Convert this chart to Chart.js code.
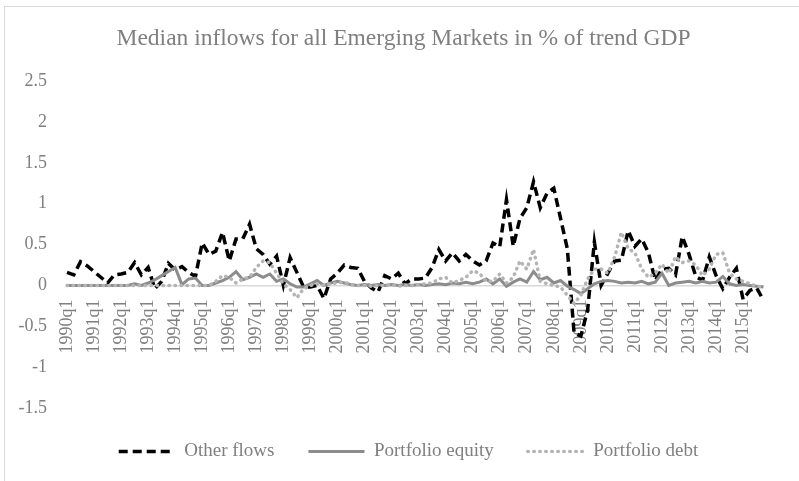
<!DOCTYPE html>
<html>
<head>
<meta charset="utf-8">
<script src="https://cdn.jsdelivr.net/npm/chart.js@4/dist/chart.umd.min.js"></script>
<style>
  html, body { margin: 0; padding: 0; background: #fff; }
  #frame { position: absolute; left: 4px; top: 6px; width: 900px; height: 600px; border: 1px solid #d9d9d9; box-sizing: border-box; }
  #wrap { position: absolute; left: 0; top: 0; width: 799px; height: 481px; }
</style>
</head>
<body>
<div id="frame"></div>
<div id="wrap"><canvas id="c" width="799" height="481"></canvas></div>
<script>
const years = [1990,1991,1992,1993,1994,1995,1996,1997,1998,1999,2000,2001,2002,2003,2004,2005,2006,2007,2008,2009,2010,2011,2012,2013,2014,2015];
const quarters = ['q1','q2','q3','q4'];
const categories = [];
years.forEach(y => quarters.forEach(q => categories.push(y + q)));

const otherFlows = [
  0.16,0.13,0.29,0.24, 0.17,0.10,0.03,0.13, 0.14,0.16,0.28,0.13, 0.22,-0.04,0.05,0.27,
  0.19,0.23,0.16,0.11, 0.52,0.38,0.42,0.65, 0.30,0.57,0.57,0.75, 0.45,0.38,0.26,0.36,
  0.00,0.34,0.16,-0.02, -0.02,0.00,-0.16,0.08, 0.15,0.25,0.22,0.21, 0.05,-0.03,-0.08,0.12,
  0.08,0.15,0.02,0.08, 0.08,0.09,0.22,0.44, 0.30,0.40,0.30,0.38, 0.30,0.25,0.30,0.52,
  0.47,1.05,0.48,0.82, 0.95,1.27,0.95,1.13, 1.19,0.82,0.45,-0.58, -0.62,-0.30,0.53,0.00,
  0.15,0.30,0.31,0.67, 0.48,0.57,0.40,0.06, 0.20,0.21,0.13,0.60, 0.38,0.11,0.06,0.35,
  0.12,-0.04,0.10,0.21, -0.17,-0.06,-0.03,-0.18
];
const portfolioEquity = [
  0,0,0,0, 0,0,0,0, 0,0,0.02,0.00, 0.03,0.07,0.12,0.17,
  0.22,0.01,0.08,0.09, 0.00,0.00,0.03,0.06, 0.10,0.17,0.07,0.10, 0.14,0.10,0.14,0.05,
  0.08,0.02,-0.02,-0.02, 0.02,0.06,0.00,0.03, 0.05,0.03,0.01,0.00, 0.01,0.00,0.01,0.00,
  0.01,0.00,0.01,0.00, 0.01,0.00,0.01,0.02, 0.01,0.03,0.02,0.04, 0.02,0.04,0.08,0.02,
  0.08,-0.01,0.04,0.08, 0.04,0.17,0.07,0.10, 0.03,0.06,-0.01,-0.05, -0.10,-0.04,0.02,0.05,
  0.06,0.05,0.03,0.04, 0.03,0.05,0.02,0.04, 0.15,0.00,0.03,0.04, 0.05,0.03,0.05,0.03,
  0.04,0.11,0.02,0.00, 0.01,0.00,-0.01,-0.02
];
const portfolioDebt = [
  0,0,0,0, 0,0,0,0, 0,0,0,0, 0,0,0,0,
  0,0,0,0, 0.00,0.00,0.05,0.12, 0.10,0.03,0.08,0.10, 0.22,0.30,0.28,0.15,
  0.02,-0.05,-0.15,-0.04, 0.00,0.02,0.00,0.02, 0.03,0.04,0.01,0.00, 0.00,-0.01,0.00,0.00,
  0.01,-0.01,0.00,0.00, 0.01,0.02,0.03,0.08, 0.10,0.03,0.06,0.10, 0.18,0.15,0.05,0.05,
  0.14,0.03,0.10,0.30, 0.20,0.44,0.05,0.02, 0.00,-0.02,-0.12,-0.22, -0.12,0.08,0.20,0.20,
  0.15,0.35,0.65,0.45, 0.40,0.20,0.10,0.15, 0.26,0.15,0.35,0.28, 0.30,0.25,0.12,0.20,
  0.38,0.40,0.15,0.08, 0.05,0.02,-0.01,-0.02
];
const seriesNames = ['Other flows', 'Portfolio equity', 'Portfolio debt'];
const yTicks = [-1.5, -1, -0.5, 0, 0.5, 1, 1.5, 2, 2.5];

const FONT = "'Liberation Serif', 'Times New Roman', serif";
const TXT = '#7f7f7f';

const boxShift = {
  id: 'boxShift',
  afterLayout(chart) {
    if (chart.legend) { chart.legend.left += 17; chart.legend.right += 17; }
    if (chart.titleBlock) { chart.titleBlock.left += 12; chart.titleBlock.right += 12; }
  }
};

new Chart(document.getElementById('c'), {
  type: 'line',
  data: {
    labels: categories,
    datasets: [
      { label: seriesNames[0], data: otherFlows, borderColor: '#000000', backgroundColor: '#000000',
        borderWidth: 3.5, borderDash: [9, 5], pointRadius: 0, tension: 0, order: 3 },
      { label: seriesNames[1], data: portfolioEquity, borderColor: '#8c8c8c', backgroundColor: '#8c8c8c',
        borderWidth: 3, pointRadius: 0, tension: 0, order: 2 },
      { label: seriesNames[2], data: portfolioDebt, borderColor: '#b4b4b4', backgroundColor: '#b4b4b4',
        borderWidth: 3.5, borderDash: [0.5, 5.5], borderCapStyle: 'round', pointRadius: 0, tension: 0, order: 1 }
    ]
  },
  plugins: [boxShift],
  options: {
    responsive: false,
    animation: false,
    layout: { padding: { left: 5, right: 21, top: 0, bottom: 10 } },
    plugins: {
      title: {
        display: true,
        text: 'Median inflows for all Emerging Markets in % of trend GDP',
        color: TXT,
        font: { family: FONT, size: 23.5, weight: 'normal' },
        padding: { top: 25, bottom: 28 }
      },
      legend: {
        position: 'bottom',
        labels: {
          usePointStyle: true,
          pointStyle: 'line',
          pointStyleWidth: 56,
          color: TXT,
          font: { family: FONT, size: 19 },
          padding: 34,
          generateLabels: (chart) => chart.data.datasets.map((ds, i) => ({
            text: ds.label,
            datasetIndex: i,
            fillStyle: ds.borderColor,
            strokeStyle: ds.borderColor,
            fontColor: TXT,
            lineWidth: ds.borderWidth,
            lineDash: ds.borderDash || [],
            lineCap: ds.borderCapStyle || 'butt',
            pointStyle: 'line',
            hidden: false
          }))
        }
      },
      tooltip: { enabled: false }
    },
    scales: {
      x: {
        type: 'category',
        position: { y: 0 },
        offset: false,
        grid: { display: false, drawTicks: false },
        border: { display: true, color: '#d9d9d9', width: 1.5 },
        ticks: {
          autoSkip: false,
          minRotation: 90,
          maxRotation: 90,
          padding: 14,
          color: TXT,
          font: { family: FONT, size: 18 },
          callback: function(v, i) { return i % 4 === 0 ? categories[i] : ''; }
        }
      },
      y: {
        min: yTicks[0],
        max: yTicks[yTicks.length - 1],
        afterFit: (s) => { s.width = 62; },
        afterBuildTicks: (s) => { s.ticks = yTicks.map(v => ({ value: v })); },
        grid: { display: false, drawTicks: false },
        border: { display: false },
        ticks: {
          padding: 20,
          color: TXT,
          font: { family: FONT, size: 18 },
          callback: (v) => String(v)
        }
      }
    }
  }
});
</script>
</body>
</html>
